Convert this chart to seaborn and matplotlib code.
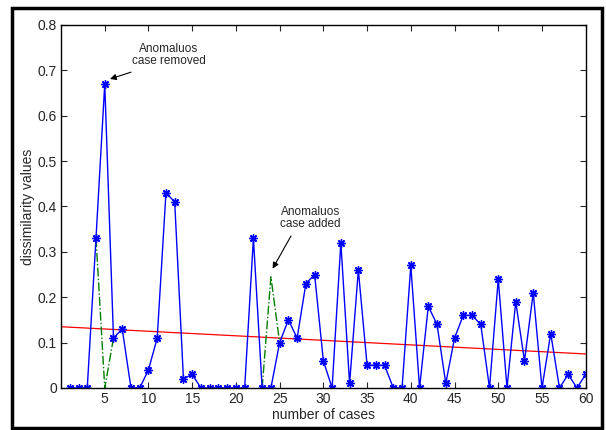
import matplotlib
matplotlib.use("Agg")
import matplotlib.pyplot as plt
from matplotlib.patches import Rectangle
import seaborn as sns
import pandas as pd

# dissimilarity value for each case (1..60)
cases = list(range(1, 61))
dissimilarity = [0, 0, 0, 0.33, 0.67, 0.11, 0.13, 0, 0, 0.04,
                 0.11, 0.43, 0.41, 0.02, 0.03, 0, 0, 0, 0, 0,
                 0, 0.33, 0, 0, 0.10, 0.15, 0.11, 0.23, 0.25, 0.06,
                 0, 0.32, 0.01, 0.26, 0.05, 0.05, 0.05, 0, 0, 0.27,
                 0, 0.18, 0.14, 0.01, 0.11, 0.16, 0.16, 0.14, 0, 0.24,
                 0, 0.19, 0.06, 0.21, 0, 0.12, 0, 0.03, 0, 0.03]

# modified series around the anomalous cases
removed_x = [4, 5, 6]
removed_y = [0.33, 0.0, 0.11]
added_x = [23, 24, 25]
added_y = [0.0, 0.245, 0.10]

# linear trend
trend_x = [0, 60]
trend_y = [0.135, 0.075]

x_ticks = list(range(5, 61, 5))
y_ticks = [0, 0.1, 0.2, 0.3, 0.4, 0.5, 0.6, 0.7, 0.8]
y_tick_labels = ["0", "0.1", "0.2", "0.3", "0.4", "0.5", "0.6", "0.7", "0.8"]

sns.set_style("ticks")
plt.rcParams['font.family'] = ['Liberation Sans', 'DejaVu Sans']
plt.rcParams['xtick.direction'] = 'in'
plt.rcParams['ytick.direction'] = 'in'

fig = plt.figure(figsize=(6.06, 4.30), dpi=100)
ax = fig.add_axes([0.1007, 0.0977, 0.8658, 0.8442])

df = pd.DataFrame({"case": cases, "value": dissimilarity})

sns.lineplot(x=trend_x, y=trend_y, ax=ax, color="red", linewidth=0.9)
sns.lineplot(x=removed_x, y=removed_y, ax=ax, color=(0, 0.5, 0),
             linestyle="-.", linewidth=1.0)
sns.lineplot(x=added_x, y=added_y, ax=ax, color=(0, 0.5, 0),
             linestyle="-.", linewidth=1.0)
sns.lineplot(data=df, x="case", y="value", ax=ax, color="blue", linewidth=1.0,
             marker=(8, 2, 0), markersize=6, markeredgewidth=1.0,
             markeredgecolor="blue")

ax.set_xlim(0, 60)
ax.set_ylim(0, 0.8)
ax.set_xticks(x_ticks)
ax.set_yticks(y_ticks)
ax.set_yticklabels(y_tick_labels)
ax.tick_params(axis="both", labelsize=10, length=4, width=0.8,
               top=True, right=True, pad=3)
for s in ax.spines.values():
    s.set_visible(True)
    s.set_linewidth(1.0)
    s.set_color("black")

ax.set_xlabel("number of cases", fontsize=10, labelpad=1)
ax.set_ylabel("dissimilarity values", fontsize=10, labelpad=2)

# annotations: text and arrows
arrow = dict(arrowstyle="-|>", color="black", lw=0.8, mutation_scale=9,
             shrinkA=0, shrinkB=0)
ax.text(12.3, 0.734, "Anomaluos\ncase removed", ha="center", va="center",
        fontsize=8.5, linespacing=1.0)
ax.annotate("", xy=(5.6, 0.681), xytext=(8.0, 0.696), arrowprops=arrow)
ax.text(28.5, 0.374, "Anomaluos\ncase added", ha="center", va="center",
        fontsize=8.5, linespacing=1.0)
ax.annotate("", xy=(24.2, 0.263), xytext=(26.3, 0.335), arrowprops=arrow)

# outer frame around the figure
fig.patches.append(Rectangle((12 / 606, 2 / 430), 590 / 606, 420 / 430,
                             transform=fig.transFigure, fill=False,
                             edgecolor="black", linewidth=2.5))

fig.savefig("out.png", dpi=100)
